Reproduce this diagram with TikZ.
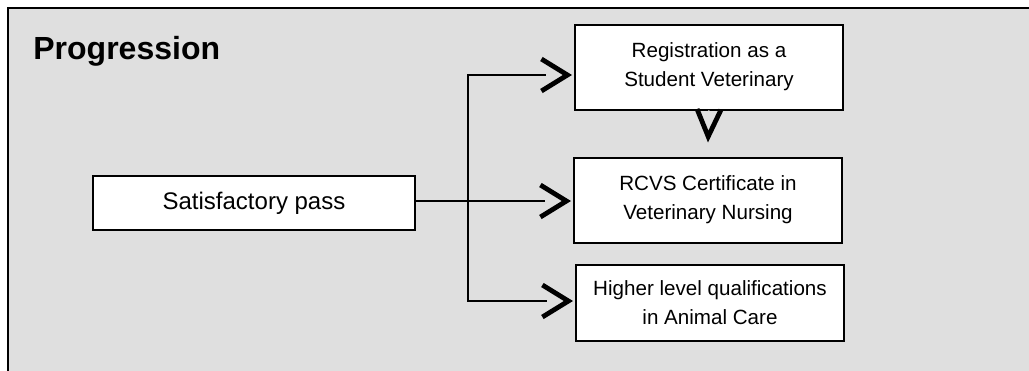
\documentclass[tikz,border=0pt]{standalone}
\usepackage{fontspec}
\setmainfont{Liberation Sans}
\usepackage{tikz}
\usetikzlibrary{arrows.meta,positioning,calc}

\definecolor{panel}{RGB}{223,223,223}

% open chevron tip, the line stops at its back
\pgfdeclarearrow{
  name=Chevron,
  defaults={length=13pt, width=16pt},
  parameters={\the\pgfarrowlength,\the\pgfarrowwidth},
  setup code={
    \pgfmathsetlengthmacro\chevoff{1.2pt*veclen(\pgfarrowlength,0.5*\pgfarrowwidth)/(0.5*\pgfarrowwidth)}
    \pgfarrowssettipend{0pt}
    \pgfarrowssetlineend{-\pgfarrowlength-\chevoff+0.5pt}
    \pgfarrowssetbackend{-\pgfarrowlength-\chevoff}
    \pgfarrowshullpoint{0pt}{0pt}
    \pgfarrowsupperhullpoint{-\pgfarrowlength-\chevoff}{.5\pgfarrowwidth}
    \pgfarrowssavethe\pgfarrowlength
    \pgfarrowssavethe\pgfarrowwidth
  },
  drawing code={
    \pgfmathsetlengthmacro\chevoff{1.2pt*veclen(\pgfarrowlength,0.5*\pgfarrowwidth)/(0.5*\pgfarrowwidth)}
    \pgfsetlinewidth{2.4pt}
    \pgfsetdash{}{0pt}
    \pgfsetbuttcap
    \pgfsetmiterjoin
    \pgfpathmoveto{\pgfpoint{-\pgfarrowlength-\chevoff}{.5\pgfarrowwidth}}
    \pgfpathlineto{\pgfpoint{-\chevoff}{0pt}}
    \pgfpathlineto{\pgfpoint{-\pgfarrowlength-\chevoff}{-.5\pgfarrowwidth}}
    \pgfusepathqstroke
  }
}

\begin{document}
\begin{tikzpicture}[
  x=0.5pt, y=-0.5pt,
  box/.style={rectangle, draw, line width=1pt, fill=white, inner sep=0pt,
    align=center, font=\fontsize{10.3}{14.5}\selectfont,
    minimum width=134pt, minimum height=42.5pt},
  link/.style={line width=0.9pt},
  tip/.style={link, -{Chevron[length=13pt, width=16pt]}, shorten >=1pt},
  downtip/.style={link, draw=panel, -{Chevron[length=13.6pt, width=12pt, color=black]}}
]
  \useasboundingbox (0,0) rectangle (1029,370);
  \clip (0,0) rectangle (1029,370);

  % Panel
  \draw[fill=panel, line width=1pt] (8,8) rectangle (1050,390);
  \node[anchor=base west, inner sep=0pt, font=\fontsize{16}{18}\selectfont\bfseries] (title) at (33,59) {Progression};

  \node[box, minimum width=161pt, minimum height=27pt, font=\fontsize{12}{14}\selectfont] (pass) at (254,203) {Satisfactory pass};
  \node[box] (reg) at (709,67) {Registration as a\\Student Veterinary};
  \node[box] (rcvs) at (708,200) {RCVS Certificate in\\Veterinary Nursing};
  \node[box, minimum height=38pt] (higher) at (710,303) {Higher level qualifications\\in Animal Care};

  \coordinate (split) at (468,201);

  \draw[tip] (pass.east |- split) -- (split -| rcvs.west);
  \draw[tip] (split) |- ($(reg.west)+(0,8)$);
  \draw[tip] (split) |- ($(higher.west)+(0,-2)$);
  \draw[downtip] (reg.south) -- ($(rcvs.north)+(0,-14)$);
\end{tikzpicture}
\end{document}
